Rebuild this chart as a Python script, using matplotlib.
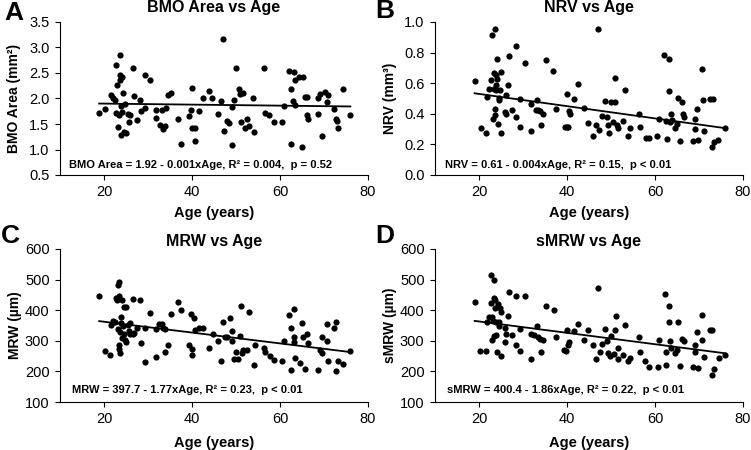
import numpy as np
import matplotlib
matplotlib.use('Agg')
import matplotlib.pyplot as plt

plt.rcParams['font.family'] = ['Liberation Sans', 'DejaVu Sans']

# Panel A - BMO area
ages_a = [18.9, 20.2, 21.5, 22.0, 22.6, 22.8, 23.0, 22.8, 23.2, 23.3, 23.6, 23.7, 23.7, 23.8, 23.9,
          24.2, 24.3, 24.2, 24.5, 24.7, 24.9, 25.5, 25.7, 25.8, 26.6, 26.8, 27.4, 28.1, 28.5, 29.3,
          29.4, 30.4, 31.8, 31.8, 32.7, 33.2, 33.4, 33.8, 34.0, 34.6, 35.3, 36.9, 37.5, 39.4, 39.8,
          40.0, 39.9, 40.7, 40.7, 41.6, 42.4, 43.8, 44.6, 46.0, 46.7, 47.0, 47.3, 47.9, 48.3, 49.2,
          49.2, 49.6, 50.1, 50.6, 50.8, 51.2, 51.5, 52.0, 52.6, 52.9, 53.8, 54.1, 56.3, 56.6, 57.6,
          58.6, 60.4, 60.9, 62.1, 62.5, 62.5, 63.1, 63.0, 63.3, 63.5, 64.4, 65.0, 65.2, 65.6, 66.1,
          66.1, 66.3, 68.7, 68.7, 69.1, 69.5, 70.3, 70.6, 70.9, 72.2, 72.8, 72.9, 73.1, 74.4, 76.0]
bmo_area = [1.72, 1.80, 2.07, 2.01, 1.98, 2.65, 2.26, 1.72, 1.45, 1.67, 2.36, 2.86, 2.47, 1.86, 1.28,
            2.43, 2.11, 1.73, 1.34, 1.89, 1.33, 1.69, 1.54, 1.67, 2.60, 2.04, 1.58, 1.98, 1.75, 2.46,
            1.82, 2.37, 1.78, 1.62, 1.49, 1.77, 1.41, 1.47, 1.82, 2.06, 2.11, 1.60, 1.11, 1.66, 1.77,
            2.21, 1.42, 1.42, 1.16, 1.75, 2.00, 2.14, 2.00, 1.69, 1.96, 3.17, 1.36, 1.56, 1.51, 1.08,
            1.83, 1.98, 2.60, 2.19, 2.09, 1.54, 2.10, 1.43, 1.60, 1.47, 2.00, 1.34, 2.60, 1.72, 1.67,
            1.54, 1.53, 1.86, 2.53, 2.19, 1.10, 2.52, 1.96, 1.87, 2.36, 2.43, 1.05, 2.43, 2.02, 2.03,
            1.67, 1.60, 1.69, 2.01, 2.09, 1.26, 2.13, 1.93, 2.07, 1.80, 1.60, 1.56, 1.43, 2.19, 1.67]

# Panel B - NRV
ages_b = [19.0, 20.4, 21.5, 21.8, 22.3, 22.8, 23.0, 23.3, 23.3, 23.2, 23.6, 23.6, 23.7, 23.8, 23.9,
          23.9, 24.2, 24.2, 24.3, 24.5, 24.6, 24.7, 24.9, 25.1, 25.8, 26.1, 26.1, 26.6, 26.8, 27.4,
          28.3, 28.5, 29.4, 29.4, 30.4, 31.8, 31.9, 33.2, 32.9, 33.4, 33.8, 34.0, 34.6, 35.3, 36.9,
          37.5, 39.5, 40.0, 39.9, 40.3, 40.5, 40.7, 41.6, 42.6, 43.8, 44.8, 46.0, 46.7, 47.1, 47.3,
          47.9, 48.6, 49.2, 49.4, 49.6, 50.0, 50.8, 50.5, 51.0, 51.4, 51.7, 52.8, 53.2, 53.9, 54.3,
          56.4, 56.6, 57.9, 58.6, 60.4, 60.8, 62.1, 62.6, 62.7, 63.1, 63.2, 63.3, 63.6, 63.8, 64.6,
          65.0, 65.3, 65.6, 66.1, 66.3, 66.7, 68.7, 69.0, 69.1, 69.5, 69.7, 70.6, 70.9, 71.2, 72.5,
          73.1, 72.9, 73.3, 74.4, 76.0]
nrv = [0.614, 0.309, 0.277, 0.510, 0.564, 0.623, 0.915, 0.667, 0.564, 0.368, 0.954, 0.390, 0.434, 0.553, 0.586,
       0.651, 0.625, 0.760, 0.331, 0.505, 0.488, 0.553, 0.673, 0.277, 0.412, 0.521, 0.397, 0.586, 0.778, 0.427,
       0.843, 0.379, 0.499, 0.314, 0.732, 0.466, 0.285, 0.488, 0.427, 0.423, 0.416, 0.325, 0.401, 0.749, 0.678,
       0.434, 0.314, 0.532, 0.314, 0.314, 0.416, 0.401, 0.499, 0.593, 0.440, 0.342, 0.253, 0.325, 0.952, 0.292,
       0.383, 0.484, 0.379, 0.325, 0.277, 0.477, 0.477, 0.346, 0.634, 0.325, 0.307, 0.353, 0.558, 0.253, 0.307,
       0.401, 0.314, 0.244, 0.244, 0.253, 0.364, 0.782, 0.353, 0.233, 0.760, 0.549, 0.346, 0.401, 0.357, 0.309,
       0.336, 0.505, 0.222, 0.477, 0.401, 0.379, 0.220, 0.364, 0.298, 0.434, 0.231, 0.695, 0.492, 0.288, 0.499,
       0.499, 0.183, 0.216, 0.227, 0.307]

# Panel C - MRW
ages_c = [18.9, 20.2, 21.3, 21.5, 22.0, 22.4, 22.7, 23.0, 23.2, 23.3, 23.2, 23.3, 23.3, 23.4, 23.6,
          23.7, 23.8, 23.9, 24.1, 24.2, 24.3, 24.5, 24.6, 24.7, 24.9, 25.1, 25.5, 25.7, 25.8, 26.0,
          26.5, 26.6, 26.8, 27.4, 28.1, 28.5, 29.4, 29.4, 30.4, 31.8, 31.9, 32.5, 33.2, 33.4, 33.8,
          33.9, 34.6, 35.3, 36.9, 37.5, 39.4, 39.8, 39.9, 40.1, 40.5, 40.7, 41.6, 42.4, 43.8, 44.8,
          46.0, 46.7, 47.0, 47.5, 48.0, 48.6, 49.2, 49.2, 49.6, 50.0, 50.5, 50.8, 51.1, 51.4, 51.7,
          52.6, 52.9, 54.1, 54.3, 56.4, 56.6, 57.7, 58.6, 60.4, 60.8, 62.1, 62.5, 62.6, 63.1, 63.1,
          63.2, 63.5, 64.6, 65.0, 65.2, 65.6, 66.1, 66.3, 68.7, 69.0, 69.5, 69.6, 70.6, 70.6, 71.0,
          72.2, 72.8, 72.8, 73.1, 74.4, 76.0]
mrw = [445, 268, 254, 352, 366, 360, 439, 434, 483, 491, 339, 285, 273, 445, 328,
       260, 358, 379, 434, 309, 347, 410, 322, 303, 410, 296, 352, 333, 358, 323,
       322, 437, 325, 343, 434, 292, 230, 341, 392, 247, 339, 354, 354, 343, 263,
       338, 285, 388, 428, 401, 285, 387, 273, 254, 374, 336, 343, 343, 278, 323,
       300, 235, 360, 314, 314, 376, 333, 298, 241, 265, 241, 316, 414, 260, 271,
       271, 393, 222, 285, 276, 263, 249, 238, 235, 298, 385, 341, 203, 403, 311,
       296, 243, 227, 358, 314, 209, 323, 292, 205, 271, 311, 260, 354, 300, 235,
       343, 361, 200, 235, 224, 267]

# Panel D - sMRW
ages_d = [19.0, 20.2, 21.5, 21.8, 22.3, 22.7, 22.8, 23.0, 23.0, 23.2, 23.3, 23.3, 23.4, 23.6, 23.7,
          23.9, 23.9, 24.2, 24.3, 24.5, 24.6, 24.7, 24.9, 25.1, 25.8, 25.8, 26.1, 26.6, 26.8, 27.4,
          28.3, 28.5, 29.3, 29.4, 30.4, 31.9, 31.8, 32.5, 33.2, 33.4, 33.8, 34.0, 34.6, 35.3, 37.0,
          37.5, 39.4, 39.9, 39.8, 40.3, 40.5, 41.6, 42.6, 43.8, 44.8, 46.0, 46.7, 47.1, 47.5, 48.0,
          48.6, 49.2, 49.4, 49.8, 50.1, 50.6, 50.8, 51.1, 51.5, 51.7, 52.8, 53.1, 53.9, 54.3, 56.4,
          56.6, 57.7, 58.6, 60.6, 61.0, 62.2, 62.5, 62.6, 63.1, 63.1, 63.5, 63.7, 64.6, 65.0, 65.3,
          65.6, 66.1, 66.5, 68.7, 69.0, 69.1, 69.5, 69.7, 70.6, 70.6, 71.2, 72.4, 72.9, 72.9, 73.3,
          74.6, 76.0]
smrw = [428, 267, 268, 363, 379, 423, 515, 379, 303, 365, 499, 441, 317, 407, 434,
        360, 320, 265, 421, 363, 349, 407, 393, 251, 343, 296, 323, 382, 459, 320,
        448, 285, 267, 339, 445, 241, 323, 320, 347, 314, 305, 263, 301, 414, 401,
        312, 271, 336, 267, 285, 296, 333, 354, 301, 336, 285, 241, 474, 265, 290,
        338, 298, 260, 251, 316, 258, 336, 380, 276, 240, 254, 352, 235, 245, 314,
        265, 235, 216, 214, 301, 452, 265, 222, 415, 361, 298, 276, 260, 271, 361,
        219, 307, 298, 213, 262, 285, 330, 211, 384, 303, 248, 336, 336, 187, 208,
        243, 254]

# regression coefficients printed on the panels
intercepts = [1.92, 0.61, 397.7, 400.4]
slopes = [-0.001, -0.004, -1.77, -1.86]

titles = ['BMO Area vs Age', 'NRV vs Age', 'MRW vs Age', 'sMRW vs Age']
ylabels = ['BMO Area (mm\u00b2)', 'NRV (mm\u00b3)', 'MRW (\u00b5m)', 'sMRW (\u00b5m)']
letters = ['A', 'B', 'C', 'D']
equations = ['BMO Area = 1.92 - 0.001xAge, R\u00b2 = 0.004,  p = 0.52',
             'NRV = 0.61 - 0.004xAge, R\u00b2 = 0.15,  p < 0.01',
             'MRW = 397.7 - 1.77xAge, R\u00b2 = 0.23,  p < 0.01',
             'sMRW = 400.4 - 1.86xAge, R\u00b2 = 0.22,  p < 0.01']
yticks = [np.arange(0.5, 3.51, 0.5), np.arange(0, 1.01, 0.2),
          np.arange(100, 601, 100), np.arange(100, 601, 100)]
ytick_fmt = ['{:.1f}', '{:.1f}', '{:.0f}', '{:.0f}']

xs = [ages_a, ages_b, ages_c, ages_d]
ys = [bmo_area, nrv, mrw, smrw]

fig = plt.figure(figsize=(7.51, 4.5), dpi=100)

# axes boxes in pixels: left, top
boxes = [(60, 22), (435, 22), (60, 249), (435, 249)]
w_px, h_px = 308, 153
title_pad = [7, 7, 1.5, 1.5]
letter_pos = [(14, 13), (385, 11), (10, 236), (385, 236)]
eq_y = [0.065, 0.065, 0.078, 0.078]
eq_x = [0.03, 0.032, 0.039, 0.039]
xlabel_y = [-0.203, -0.203, -0.222, -0.222]

for i in range(4):
    left, top = boxes[i]
    ax = fig.add_axes([left / 751, 1 - (top + h_px) / 450, w_px / 751, h_px / 450])
    x = np.array(xs[i])
    y = np.array(ys[i])
    ax.scatter(x, y, s=20, color='black', zorder=3, linewidths=0)
    xl = np.array([x.min(), x.max()])
    ax.plot(xl, intercepts[i] + slopes[i] * xl, color='black', lw=1.3, zorder=4)

    ax.set_xlim(10, 80)
    ax.set_ylim(yticks[i][0], yticks[i][-1])
    ax.set_xticks([20, 40, 60, 80])
    ax.set_yticks(yticks[i])
    ax.set_yticklabels([ytick_fmt[i].format(v) for v in yticks[i]])
    ax.tick_params(labelsize=10.5, length=3.5, width=0.8, direction='out', pad=4)
    for side in ['top', 'right']:
        ax.spines[side].set_visible(False)
    for side in ['left', 'bottom']:
        ax.spines[side].set_linewidth(0.8)

    ax.set_title(titles[i], fontsize=11.5, fontweight='bold', pad=title_pad[i])
    ax.set_ylabel(ylabels[i], fontsize=10, fontweight='bold')
    ax.set_xlabel('Age (years)', fontsize=10.5, fontweight='bold')
    ax.yaxis.set_label_coords(-0.125, 0.5)
    ax.xaxis.set_label_coords(0.5, xlabel_y[i])
    ax.text(eq_x[i], eq_y[i], equations[i], transform=ax.transAxes, fontsize=8,
            fontweight='bold', va='center', ha='left')

    lx, ly = letter_pos[i]
    fig.text(lx / 751, 1 - ly / 450, letters[i], fontsize=19, fontweight='bold',
             ha='center', va='center')

fig.savefig('out.png', dpi=100)
